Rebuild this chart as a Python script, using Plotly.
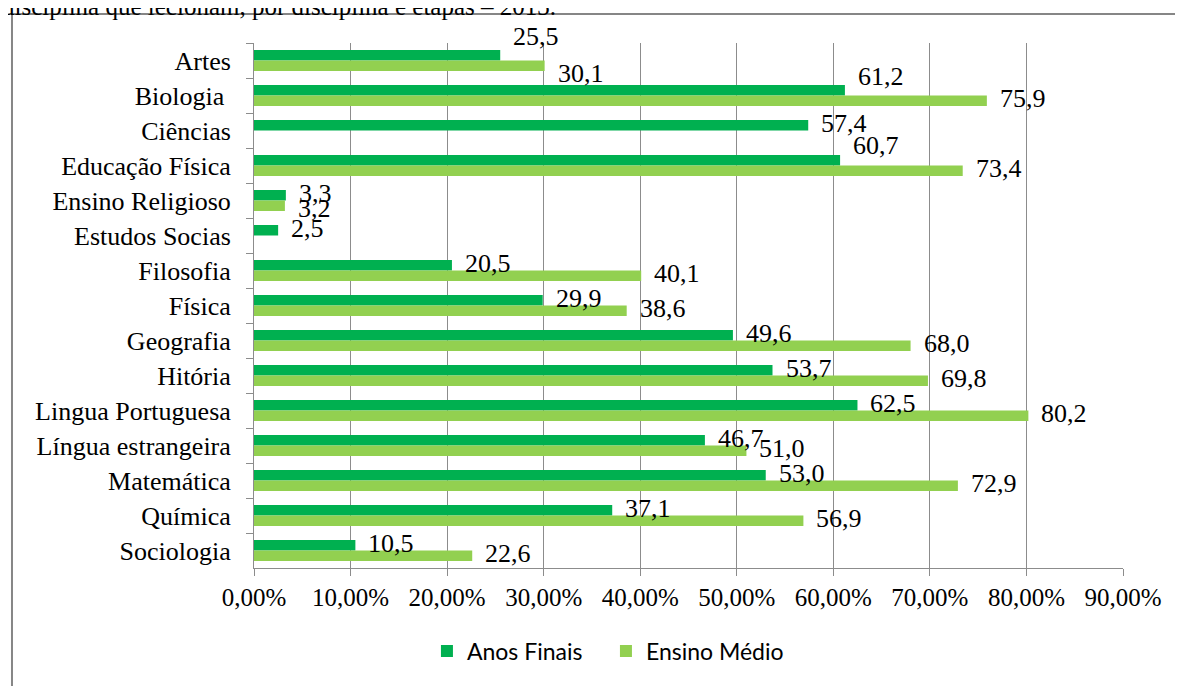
import plotly.graph_objects as go

categories = [
    "Artes", "Biologia\u00a0", "Ciências", "Educação Física", "Ensino Religioso",
    "Estudos Socias", "Filosofia", "Física", "Geografia", "Hitória",
    "Lingua Portuguesa", "Língua estrangeira", "Matemática", "Química", "Sociologia",
]
anos_finais = [25.5, 61.2, 57.4, 60.7, 3.3, 2.5, 20.5, 29.9, 49.6, 53.7, 62.5, 46.7, 53.0, 37.1, 10.5]
ensino_medio = [30.1, 75.9, None, 73.4, 3.2, None, 40.1, 38.6, 68.0, 69.8, 80.2, 51.0, 72.9, 56.9, 22.6]
x_ticks = [0, 10, 20, 30, 40, 50, 60, 70, 80, 90]
x_tick_labels = [f"{t:.2f}".replace(".", ",") + "%" for t in x_ticks]

DARK = "#00B050"
LIGHT = "#92D050"
GRID = "#8c8c8c"
SERIF = "Liberation Serif, Times New Roman, serif"

# Excel moved a few labels off their bars to avoid overlaps (pixels, down = positive)
label_nudge = {
    ("Anos Finais", 0): -17,
    ("Ensino Médio", 0): 10,
    ("Anos Finais", 1): -12,
    ("Anos Finais", 3): -13,
    ("Ensino Médio", 4): 5,
}

fig = go.Figure()
series = [("Anos Finais", anos_finais, DARK, 7.5), ("Ensino Médio", ensino_medio, LIGHT, -2.5)]
for name, values, color, base_shift in series:
    fig.add_trace(
        go.Bar(
            y=categories,
            x=values,
            orientation="h",
            name=name,
            marker={"color": color, "line": {"width": 0}},
        )
    )
    for i, (cat, v) in enumerate(zip(categories, values)):
        if v is None:
            continue
        fig.add_annotation(
            x=v,
            y=cat,
            xref="x",
            yref="y",
            text=f"{v:.1f}".replace(".", ","),
            showarrow=False,
            xanchor="left",
            yanchor="middle",
            xshift=11,
            yshift=base_shift - label_nudge.get((name, i), 0),
            font={"family": SERIF, "size": 26, "color": "#000000"},
        )

# caption cut off at top of the page
fig.add_annotation(
    x=-0.292,
    y=1.04,
    xref="paper",
    yref="paper",
    text="disciplina que lecionam, por disciplina e etapas – 2013.",
    showarrow=False,
    xanchor="left",
    yanchor="bottom",
    font={"family": SERIF, "size": 25, "color": "#000000"},
)

# chart frame
fig.add_shape(
    type="rect",
    xref="paper",
    yref="paper",
    x0=-0.2785,
    x1=1.1,
    y0=-0.3,
    y1=1.0552,
    line={"color": "#868686", "width": 2},
    fillcolor="rgba(0,0,0,0)",
    layer="below",
)

fig.update_layout(
    template="none",
    width=1183,
    height=686,
    margin={"l": 246, "r": 68, "t": 35, "b": 126, "autoexpand": False},
    paper_bgcolor="white",
    plot_bgcolor="white",
    barmode="group",
    bargap=0.4,
    bargroupgap=0,
    showlegend=True,
    legend={
        "orientation": "h",
        "x": 0.405,
        "y": -0.158,
        "xanchor": "center",
        "yanchor": "middle",
        "entrywidth": 134,
        "font": {"family": "Lato, Carlito, sans-serif", "size": 23, "color": "#000000"},
        "bgcolor": "rgba(0,0,0,0)",
    },
    xaxis={
        "range": [0, 90],
        "tickmode": "array",
        "tickvals": x_ticks,
        "ticktext": x_tick_labels,
        "showgrid": True,
        "gridcolor": GRID,
        "gridwidth": 1,
        "zeroline": False,
        "showline": True,
        "linecolor": GRID,
        "linewidth": 1,
        "ticks": "outside",
        "ticklen": 7,
        "tickcolor": GRID,
        "tickfont": {"family": SERIF, "size": 25, "color": "#000000"},
        "automargin": False,
        "fixedrange": True,
    },
    yaxis={
        "type": "category",
        "categoryorder": "array",
        "categoryarray": categories,
        "range": [len(categories) - 0.5, -0.5],
        "showgrid": False,
        "zeroline": False,
        "showline": True,
        "linecolor": GRID,
        "linewidth": 1,
        "ticks": "outside",
        "tickson": "boundaries",
        "ticklen": 7,
        "tickcolor": GRID,
        "ticklabelstandoff": 17,
        "tickfont": {"family": SERIF, "size": 26, "color": "#000000"},
        "automargin": False,
        "fixedrange": True,
    },
)

fig.write_html("out.html")
